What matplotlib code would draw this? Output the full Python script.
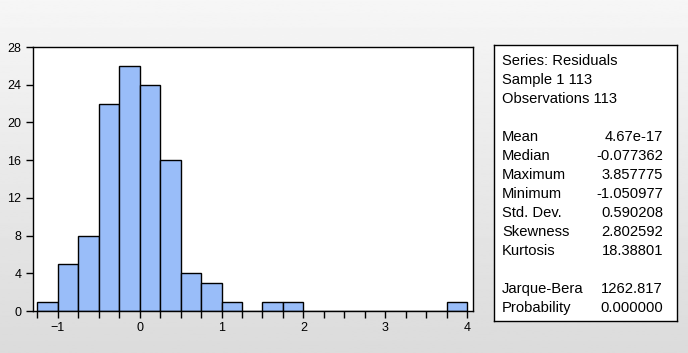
import numpy as np
import matplotlib.pyplot as plt

plt.rcParams['font.family'] = ['Liberation Sans', 'DejaVu Sans']

# histogram bins (width 0.25) and counts
bin_edges = np.arange(-1.25, 4.01, 0.25)
counts = [1, 5, 8, 22, 26, 24, 16, 4, 3, 1, 0, 1, 1,
          0, 0, 0, 0, 0, 0, 0, 1]

stat_names = ["Mean", "Median", "Maximum", "Minimum", "Std. Dev.",
              "Skewness", "Kurtosis"]
stat_values = ["4.67e-17", "-0.077362", "3.857775", "-1.050977",
               "0.590208", "2.802592", "18.38801"]
test_names = ["Jarque-Bera", "Probability"]
test_values = ["1262.817", "0.000000"]
header_lines = ["Series: Residuals", "Sample 1 113", "Observations 113"]

W, H = 688, 353
fig = plt.figure(figsize=(W / 100, H / 100), dpi=100)

# grey gradient background
bg = fig.add_axes([0, 0, 1, 1], zorder=-10)
grad = np.linspace(0.965, 0.86, 256).reshape(-1, 1)
bg.imshow(grad, cmap="gray", vmin=0, vmax=1, aspect="auto",
          extent=[0, 1, 0, 1])
bg.axis("off")

ax = fig.add_axes([33 / W, 1 - 311 / H, 440 / W, 264 / H])
ax.set_facecolor("white")
ax.bar(bin_edges[:-1], counts, width=0.25, align="edge",
       color="#99bdf9", edgecolor="black", linewidth=1.0, zorder=2)
ax.set_xlim(-1.305, 4.073)
ax.set_ylim(0, 28)
ax.set_yticks(np.arange(0, 29, 4))
ax.set_xticks([-1, 0, 1, 2, 3, 4])
ax.set_xticks(np.arange(-1.25, 4.01, 0.25), minor=True)
ax.tick_params(axis="both", direction="out", labelsize=9, length=5,
               width=1, colors="black")
ax.tick_params(axis="x", which="minor", length=5, width=1)
ax.tick_params(axis="x", pad=3)
for s in ax.spines.values():
    s.set_linewidth(1.0)

# statistics box
sx = fig.add_axes([494 / W, 1 - 321 / H, 183 / W, 276 / H])
sx.set_facecolor("white")
sx.set_xticks([])
sx.set_yticks([])
for s in sx.spines.values():
    s.set_linewidth(1.0)


def place(x_px, y_px, txt, ha="left"):
    fig.text(x_px / W, 1 - y_px / H, txt, ha=ha, va="center",
             fontsize=10.6, color="black")


for i, line in enumerate(header_lines):
    place(502, 61 + 19 * i, line)
for i, (n, v) in enumerate(zip(stat_names, stat_values)):
    place(502, 137 + 19 * i, n)
    place(663, 137 + 19 * i, v, ha="right")
for i, (n, v) in enumerate(zip(test_names, test_values)):
    place(502, 289 + 19 * i, n)
    place(663, 289 + 19 * i, v, ha="right")

fig.savefig("out.png", dpi=100)
